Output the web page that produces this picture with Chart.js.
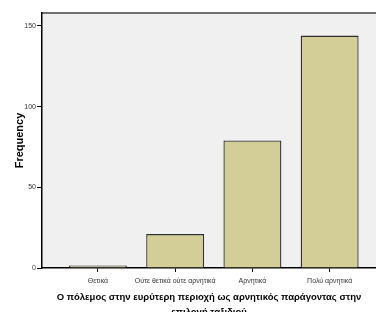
<!DOCTYPE html>
<html>
<head>
<meta charset="utf-8">
<script src="https://cdn.jsdelivr.net/npm/chart.js@4"></script>
<style>
  html, body { margin: 0; padding: 0; background: #fff; overflow: hidden; }
  #wrap { width: 376px; height: 312px; overflow: hidden; }
</style>
</head>
<body>
<div id="wrap"><canvas id="chart" width="376" height="330"></canvas></div>
<script>
const categories = ['Θετικά', 'Ούτε θετικά ούτε αρνητικά', 'Αρνητικά', 'Πολύ αρνητικά'];
const frequencies = [1, 21, 79, 144];
const yTicks = [0, 50, 100, 150];
const xTitle = ['Ο πόλεμος στην ευρύτερη περιοχή ως αρνητικός παράγοντας στην', 'επιλογή ταξιδιού'];
const yTitle = 'Frequency';

// plot background + grey top frame line
const plotFrame = {
  id: 'plotFrame',
  beforeDraw(chart) {
    const { ctx, chartArea: a } = chart;
    ctx.save();
    ctx.fillStyle = '#f0f0f0';
    ctx.fillRect(a.left, a.top, a.right - a.left, a.bottom - a.top);
    ctx.strokeStyle = '#707070';
    ctx.lineWidth = 2;
    ctx.beginPath();
    ctx.moveTo(a.left, a.top);
    ctx.lineTo(a.right, a.top);
    ctx.stroke();
    ctx.restore();
  }
};

new Chart(document.getElementById('chart'), {
  type: 'bar',
  data: {
    datasets: [{
      data: frequencies.map((v, i) => ({ x: i, y: v })),
      backgroundColor: '#d3ce98',
      borderColor: '#2e2e2e',
      borderWidth: 1.3,
      minBarLength: 2.5,
      barPercentage: 0.75,
      categoryPercentage: 1
    }]
  },
  options: {
    responsive: false,
    animation: false,
    layout: { padding: { top: 13, right: 0, left: 0, bottom: 0 } },
    plugins: { legend: { display: false }, tooltip: { enabled: false } },
    scales: {
      x: {
        type: 'linear',
        offset: false,
        min: -0.724,
        max: 3.6,
        afterBuildTicks: s => { s.ticks = categories.map((c, i) => ({ value: i })); },
        afterFit: s => { s.height = 330 - 268; },
        ticks: {
          color: '#333',
          font: { family: 'Liberation Sans', size: 7 },
          padding: 5,
          maxRotation: 0,
          autoSkip: false,
          callback: v => categories[v]
        },
        grid: { drawOnChartArea: false, offset: false, tickLength: 4, color: '#000' },
        border: { color: '#000', width: 1.5 },
        title: {
          display: true,
          text: xTitle,
          color: '#000',
          font: { family: 'Liberation Sans', size: 9.5, weight: 'bold', lineHeight: 1.55 },
          padding: { bottom: 10.5, top: 0 }
        }
      },
      y: {
        min: 0,
        max: 158,
        afterBuildTicks: s => { s.ticks = yTicks.map(v => ({ value: v })); },
        afterFit: s => { s.width = 42; },
        ticks: {
          color: '#333',
          font: { family: 'Liberation Sans', size: 7 },
          padding: 1
        },
        grid: { drawOnChartArea: false, tickLength: 5, color: '#000' },
        border: { color: '#000', width: 1.5 },
        title: {
          display: true,
          text: yTitle,
          color: '#000',
          font: { family: 'Liberation Sans', size: 11, weight: 'bold', lineHeight: 1.2 },
          padding: { top: 13.5, bottom: 0 }
        }
      }
    }
  },
  plugins: [plotFrame]
});
</script>
</body>
</html>
